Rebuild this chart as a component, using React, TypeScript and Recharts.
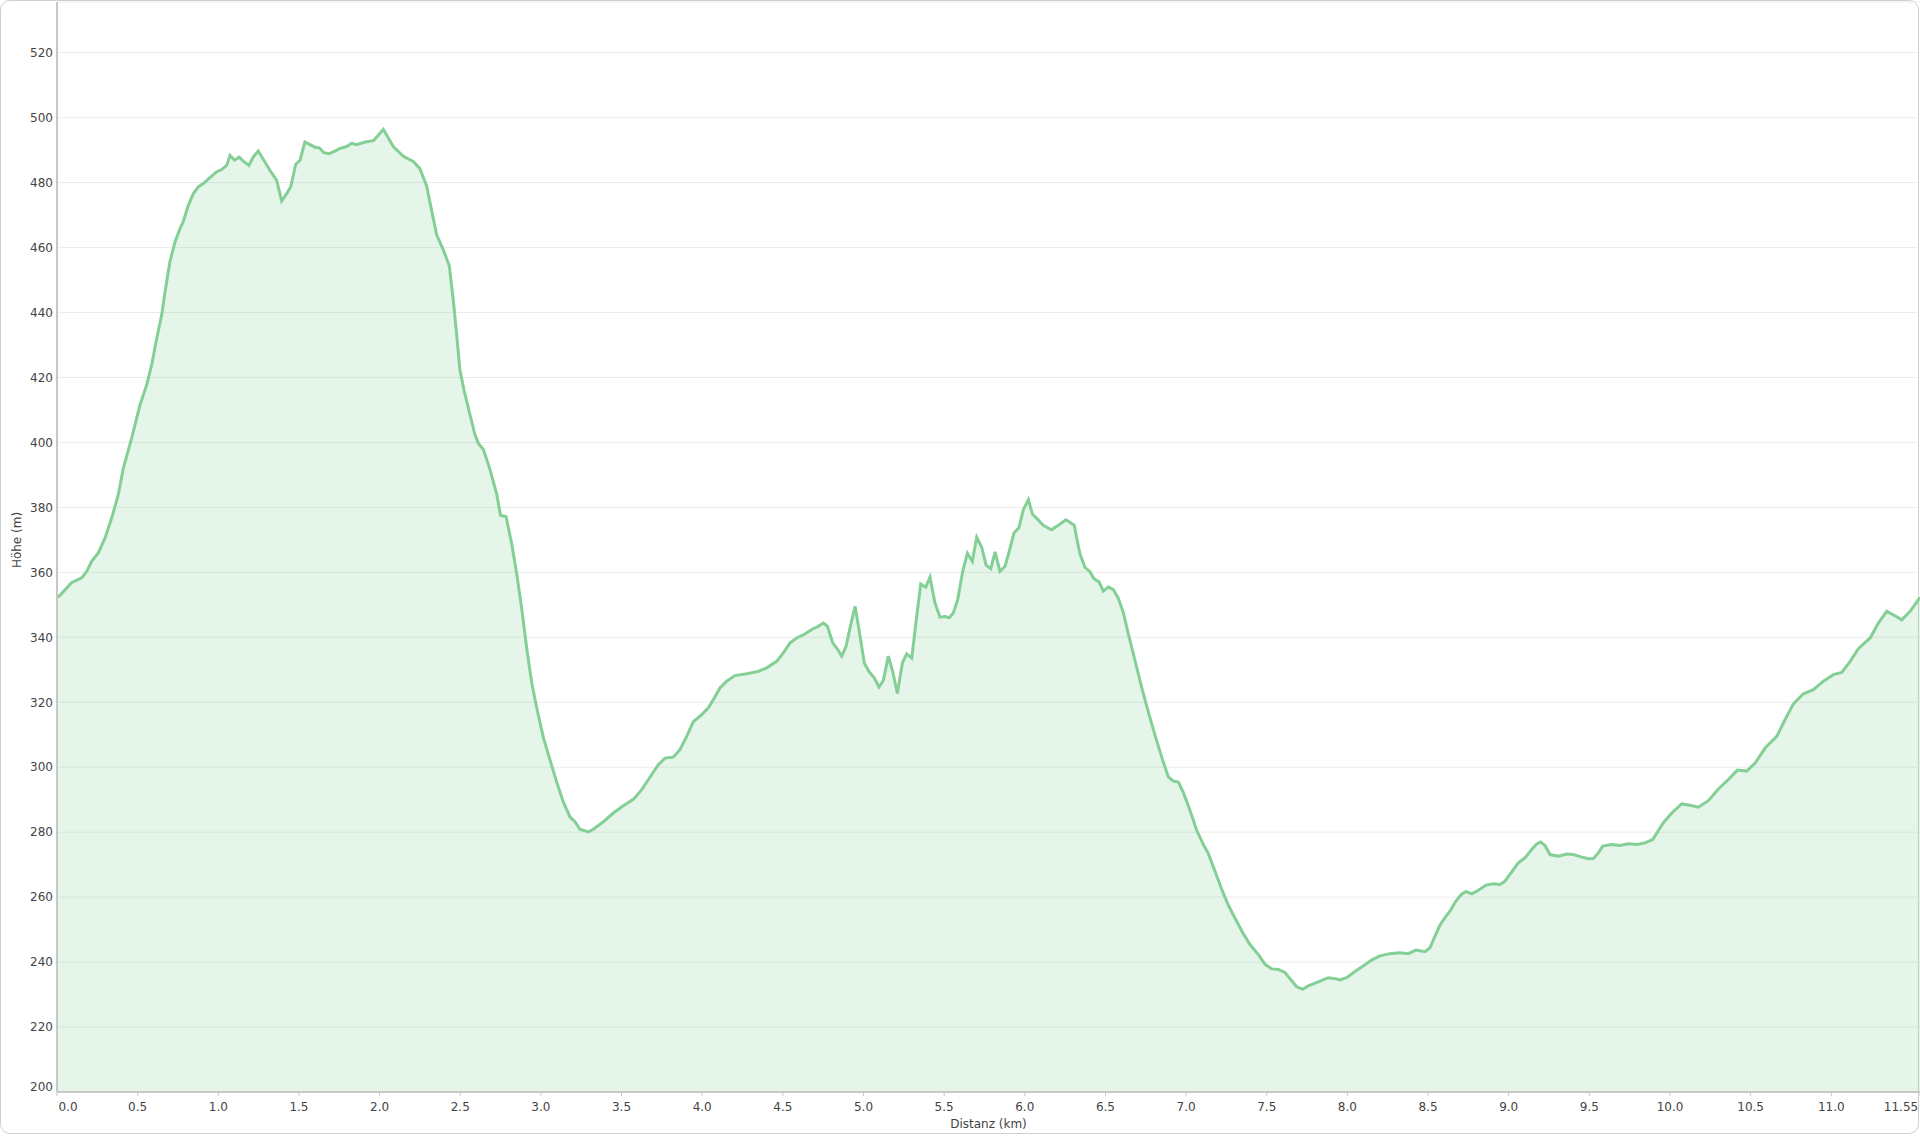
import React from 'react';
import { AreaChart, Area, XAxis, YAxis, CartesianGrid, Label } from 'recharts';

const distanceKm = [
  0, 0.02, 0.09, 0.153, 0.184, 0.215, 0.256, 0.298, 0.339, 0.38, 0.411, 0.463, 0.515, 0.556, 0.587,
  0.618, 0.649, 0.67, 0.7, 0.732, 0.763, 0.783, 0.814, 0.845, 0.876, 0.907, 0.948, 0.99, 1.021, 1.052,
  1.073, 1.1, 1.13, 1.155, 1.19, 1.217, 1.248, 1.279, 1.32, 1.362, 1.393, 1.424, 1.449, 1.48, 1.507,
  1.537, 1.568, 1.6, 1.626, 1.655, 1.688, 1.723, 1.754, 1.796, 1.827, 1.858, 1.91, 1.961, 1.992, 2.023,
  2.085, 2.147, 2.209, 2.25, 2.292, 2.323, 2.354, 2.395, 2.432, 2.457, 2.478, 2.498, 2.523, 2.56, 2.591,
  2.612, 2.643, 2.684, 2.726, 2.75, 2.784, 2.819, 2.85, 2.881, 2.912, 2.943, 2.974, 3.015, 3.056, 3.098,
  3.139, 3.18, 3.211, 3.242, 3.294, 3.325, 3.387, 3.449, 3.511, 3.573, 3.625, 3.676, 3.728, 3.77, 3.821,
  3.862, 3.904, 3.945, 3.997, 4.038, 4.069, 4.11, 4.152, 4.203, 4.276, 4.348, 4.4, 4.462, 4.503, 4.545,
  4.586, 4.637, 4.679, 4.72, 4.751, 4.776, 4.809, 4.834, 4.865, 4.892, 4.921, 4.948, 4.974, 5.005, 5.036,
  5.067, 5.096, 5.123, 5.154, 5.181, 5.21, 5.241, 5.268, 5.299, 5.326, 5.355, 5.386, 5.412, 5.443, 5.474,
  5.505, 5.532, 5.557, 5.584, 5.615, 5.644, 5.675, 5.702, 5.733, 5.76, 5.789, 5.816, 5.846, 5.877, 5.904,
  5.933, 5.964, 5.991, 6.022, 6.048, 6.073, 6.114, 6.166, 6.208, 6.255, 6.307, 6.321, 6.342, 6.373, 6.404,
  6.429, 6.46, 6.487, 6.518, 6.549, 6.58, 6.611, 6.642, 6.684, 6.725, 6.767, 6.808, 6.849, 6.89, 6.921,
  6.952, 6.984, 7.025, 7.066, 7.107, 7.138, 7.18, 7.221, 7.262, 7.314, 7.355, 7.396, 7.448, 7.49, 7.531,
  7.572, 7.613, 7.644, 7.686, 7.723, 7.758, 7.8, 7.841, 7.882, 7.924, 7.954, 7.995, 8.047, 8.098, 8.15,
  8.202, 8.264, 8.326, 8.378, 8.425, 8.481, 8.512, 8.543, 8.574, 8.605, 8.636, 8.673, 8.709, 8.735, 8.771,
  8.812, 8.86, 8.905, 8.946, 8.977, 9.019, 9.06, 9.101, 9.143, 9.174, 9.198, 9.225, 9.256, 9.308, 9.36,
  9.401, 9.453, 9.494, 9.525, 9.556, 9.583, 9.639, 9.691, 9.742, 9.794, 9.845, 9.893, 9.959, 10.011, 10.073,
  10.124, 10.176, 10.238, 10.3, 10.362, 10.418, 10.476, 10.528, 10.59, 10.662, 10.714, 10.765, 10.827, 10.889, 10.951,
  11.013, 11.065, 11.117, 11.168, 11.241, 11.292, 11.344, 11.389, 11.437, 11.489, 11.55,
];

const elevationM = [
  352.2, 353, 356.8, 358.3, 360.3, 363.4, 366, 370.6, 376.7, 383.9, 392, 401.3, 411.6, 417.7, 423.9,
  432, 439.2, 446.4, 455.6, 461.8, 465.9, 468, 473, 476.6, 478.7, 479.7, 481.5, 483.3, 484, 485.3,
  488.4, 486.9, 487.8, 486.6, 485.3, 487.9, 489.7, 487.2, 483.8, 480.7, 474.3, 476.6, 478.7, 485.6, 486.9,
  492.5, 491.7, 490.9, 490.7, 489.2, 488.9, 489.7, 490.5, 491.1, 492.1, 491.7, 492.5, 492.9, 494.6, 496.4,
  491.1, 488.1, 486.5, 484.3, 478.9, 471.3, 463.9, 459.3, 454.4, 443.7, 433, 422.3, 416.2, 408.6, 402.4,
  399.7, 397.9, 391.7, 384.1, 377.5, 377.2, 368.8, 359.6, 348.9, 336.7, 326, 318.3, 309.2, 302.3, 295.4,
  289.3, 284.7, 283.2, 280.9, 280.1, 280.9, 283.2, 285.9, 288.1, 290.1, 293.1, 296.9, 300.8, 302.8, 303.1,
  305.4, 309.5, 314, 316.2, 318.3, 320.8, 324.4, 326.5, 328.2, 328.8, 329.5, 330.6, 332.6, 335.2, 338.3,
  339.8, 341, 342.4, 343.4, 344.4, 343.4, 338.3, 336.7, 334.2, 337.2, 343.9, 349.5, 341.8, 332.1, 329.3,
  327.5, 324.7, 326.7, 334.2, 329.5, 322.7, 332.1, 334.9, 333.6, 344.9, 356.4, 355.4, 358.5, 350.6, 346.2,
  346.4, 346, 347.5, 351.6, 360.3, 365.9, 363.4, 370.8, 367.7, 362.2, 361.1, 366.3, 360.3, 361.8, 366.5,
  372.1, 373.8, 379.3, 382.4, 377.8, 376.7, 374.5, 373.1, 374.5, 376.2, 374.5, 370.7, 365.7, 361.5, 360.2,
  358, 357.1, 354.2, 355.5, 354.7, 352, 347.6, 341, 332.7, 324.5, 316.8, 309.7, 303.1, 297, 295.7,
  295.4, 292.1, 286.6, 280.5, 276.2, 273.4, 267.9, 262.4, 257.5, 252.5, 248.7, 245.4, 242.3, 239.3, 237.9,
  237.7, 236.8, 234.9, 232.4, 231.6, 232.7, 233.5, 234.4, 235.2, 234.9, 234.5, 235.2, 237.1, 238.8, 240.6,
  241.9, 242.6, 242.9, 242.6, 243.7, 243.2, 244.4, 248, 251.4, 253.7, 255.7, 258.8, 261, 261.7, 261,
  262.1, 263.7, 264.1, 263.9, 264.9, 267.8, 270.6, 272.1, 274.7, 276.4, 277, 275.9, 273.1, 272.6, 273.3,
  273.1, 272.3, 271.8, 271.9, 273.6, 275.7, 276.2, 275.9, 276.4, 276.2, 276.7, 277.7, 282.9, 285.9, 288.7,
  288.3, 287.7, 289.7, 293.3, 296.2, 299.1, 298.8, 301.3, 305.9, 309.5, 314.7, 319.5, 322.6, 323.9, 326.5,
  328.5, 329.2, 332.6, 336.5, 339.8, 344.4, 348, 346.8, 345.4, 348, 352.3,
];

const xTicks = [0, 0.5, 1, 1.5, 2, 2.5, 3, 3.5, 4, 4.5, 5, 5.5, 6, 6.5, 7, 7.5, 8, 8.5, 9, 9.5, 10, 10.5, 11, 11.55];
const yTicks = [200, 220, 240, 260, 280, 300, 320, 340, 360, 380, 400, 420, 440, 460, 480, 500, 520];

const data = distanceKm.map((d, i) => ({ d, h: elevationM[i] }));

const FONT = "'DejaVu Sans', Verdana, sans-serif";
const TEXT_COLOR = '#444';
const LINE_COLOR = '#83cf95';

const XTick = (props: any) => {
  const { x, y, payload } = props;
  const v = payload.value as number;
  const label = v === 11.55 ? '11.55' : v.toFixed(1);
  let dx = 0;
  if (v === 0) dx = 11;
  if (v === 11.55) dx = -19;
  return (
    <text x={x + dx} y={y} dy="0.71em" textAnchor="middle" fill={TEXT_COLOR} fontSize={12} fontFamily={FONT}>
      {label}
    </text>
  );
};

const YTick = (props: any) => {
  const { x, y, payload } = props;
  const v = payload.value as number;
  const dy = v === 200 ? -5 : 0;
  return (
    <text x={x} y={y + dy} dy="0.355em" textAnchor="end" fill={TEXT_COLOR} fontSize={12} fontFamily={FONT}>
      {v}
    </text>
  );
};

export default function App() {
  return (
    <div style={{ position: 'absolute', left: 0, top: 0, width: 1920, height: 1138, background: '#fff' }}>
      <div
        style={{
          position: 'absolute',
          left: 0,
          top: 0,
          width: 1917,
          height: 1132,
          border: '1px solid #cfcfcf',
          borderRadius: 10,
        }}
      />
      <div style={{ position: 'absolute', left: 0, top: 0 }}>
        <AreaChart width={1920} height={1138} data={data} margin={{ top: 2, right: 0, bottom: 0, left: 0 }}>
          <CartesianGrid vertical={false} stroke="#ececec" strokeWidth={1} />
          <XAxis
            dataKey="d"
            type="number"
            domain={[0, 11.55]}
            ticks={xTicks}
            interval={0}
            allowDataOverflow
            height={46}
            tick={<XTick />}
            tickSize={4}
            tickMargin={6}
            tickLine={{ stroke: '#c8c8c8' }}
            axisLine={{ stroke: '#c8c8c8', strokeWidth: 2 }}
          >
            <Label
              content={(p: any) => {
                const vb = p.viewBox;
                return (
                  <text
                    x={vb.x + vb.width / 2}
                    y={vb.y + 36}
                    textAnchor="middle"
                    fill={TEXT_COLOR}
                    fontSize={12}
                    fontFamily={FONT}
                  >
                    Distanz (km)
                  </text>
                );
              }}
            />
          </XAxis>
          <YAxis
            type="number"
            domain={[200, 535.6]}
            ticks={yTicks}
            interval={0}
            allowDataOverflow
            width={57}
            tick={<YTick />}
            tickLine={false}
            tickSize={0}
            tickMargin={4}
            axisLine={{ stroke: '#c8c8c8', strokeWidth: 2 }}
          >
            <Label
              content={(p: any) => {
                const vb = p.viewBox;
                const cx = vb.x + 17;
                const cy = vb.y + vb.height / 2 - 7;
                return (
                  <text
                    x={cx}
                    y={cy}
                    transform={`rotate(-90 ${cx} ${cy})`}
                    dy="0.355em"
                    textAnchor="middle"
                    fill={TEXT_COLOR}
                    fontSize={12}
                    fontFamily={FONT}
                  >
                    Höhe (m)
                  </text>
                );
              }}
            />
          </YAxis>
          <Area
            type="linear"
            dataKey="h"
            stroke={LINE_COLOR}
            strokeWidth={3}
            fill={LINE_COLOR}
            fillOpacity={0.2}
            isAnimationActive={false}
            dot={false}
            activeDot={false}
          />
        </AreaChart>
      </div>
    </div>
  );
}
